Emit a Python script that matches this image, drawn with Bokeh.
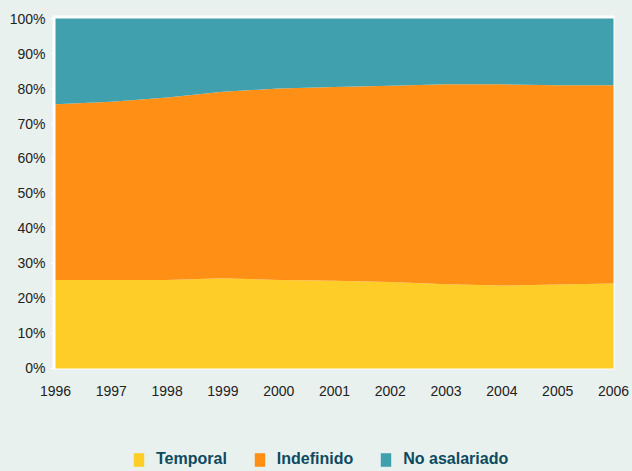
from bokeh.plotting import figure
from bokeh.layouts import column
from bokeh.models import Legend, LegendItem, FixedTicker, Range1d
from bokeh.embed import file_html
from bokeh.resources import INLINE

years = [1996, 1997, 1998, 1999, 2000, 2001, 2002, 2003, 2004, 2005, 2006]
temporal = [25.3, 25.3, 25.3, 25.8, 25.3, 25.1, 24.7, 24.1, 23.7, 24.0, 24.3]
indef_top = [75.5, 76.2, 77.4, 79.1, 80.0, 80.4, 80.8, 81.2, 81.2, 80.9, 80.9]
indefinido = [round(t - a, 1) for t, a in zip(indef_top, temporal)]
no_asalariado = [round(100 - t, 1) for t in indef_top]
series = ["Temporal", "Indefinido", "No asalariado"]
colors = ["#ffcd28", "#ff9015", "#41a0ae"]
y_ticks = [0, 10, 20, 30, 40, 50, 60, 70, 80, 90, 100]

BG = "#e8f1ee"
FONT = "Liberation Sans"

p = figure(width=632, height=440, output_backend="svg", toolbar_location=None,
           x_range=Range1d(1995.964, 2006.018), y_range=Range1d(-0.29, 100.86),
           min_border_left=53, min_border_right=18, min_border_top=15, min_border_bottom=71)
p.background_fill_color = "white"
p.border_fill_color = BG
p.outline_line_color = None
p.grid.visible = False

data = dict(year=years, Temporal=temporal, Indefinido=indefinido)
data["No asalariado"] = no_asalariado
p.varea_stack(stackers=series, x="year", color=colors, source=data)

p.xaxis.ticker = FixedTicker(ticks=years)
p.yaxis.ticker = FixedTicker(ticks=y_ticks)
p.yaxis.major_label_overrides = {t: f"{t}%" for t in y_ticks}
for ax in (p.xaxis[0], p.yaxis[0]):
    ax.major_label_text_font = FONT
    ax.major_label_text_font_size = "14px"
    ax.major_label_text_color = "#222222"
    ax.minor_tick_line_color = None
p.xaxis.axis_line_color = None
p.xaxis.major_tick_line_color = None
p.xaxis.major_tick_out = 0
p.xaxis.major_label_standoff = 16
p.yaxis.axis_line_color = "white"
p.yaxis.axis_line_width = 2
p.yaxis.major_tick_line_color = "white"
p.yaxis.major_tick_out = 3
p.yaxis.major_tick_in = 0
p.yaxis.major_label_standoff = 5

# legend strip
lg = figure(width=632, height=31, output_backend="svg", toolbar_location=None,
            x_range=Range1d(0, 1), y_range=Range1d(0, 1),
            min_border_left=0, min_border_right=0, min_border_top=0, min_border_bottom=0,
            x_axis_location=None, y_axis_location=None)
lg.border_fill_color = BG
lg.background_fill_color = BG
lg.outline_line_color = None
lg.grid.visible = False
items = []
for s, c in zip(series, colors):
    r = lg.quad(left=[-3], right=[-2], bottom=[-3], top=[-2], fill_color=c, line_color=None)
    items.append(LegendItem(label=s, renderers=[r]))
legend = Legend(items=items, orientation="horizontal", location=(79, 3))
legend.padding = 0
legend.margin = 0
legend.border_line_color = None
legend.background_fill_alpha = 0
legend.glyph_width = 13
legend.glyph_height = 17
legend.label_height = 17
legend.label_standoff = 11
legend.spacing = 26
legend.label_text_font = FONT
legend.label_text_font_style = "bold"
legend.label_text_font_size = "16px"
legend.label_text_color = "#0e4a5f"
lg.add_layout(legend, "center")

layout = column(p, lg, spacing=0)
layout.background = BG

html = file_html(layout, INLINE)
html = html.replace("<head>", "<head><style>html,body{background:%s;}</style>" % BG, 1)
open("out.html", "w").write(html)
